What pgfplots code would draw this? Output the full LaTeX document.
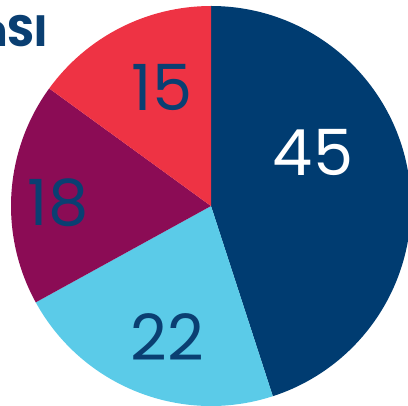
\documentclass[border=0pt]{standalone}
\usepackage{pgfplots}
\pgfplotsset{compat=1.18}
\usepackage{fontspec}
\setmainfont{Poppins}
\definecolor{cA}{HTML}{003C71}
\definecolor{cB}{HTML}{5BCBE8}
\definecolor{cC}{HTML}{8B0C55}
\definecolor{cD}{HTML}{EE3344}
\definecolor{cT}{HTML}{0A3F72}
\begin{document}
\begin{tikzpicture}
\useasboundingbox (0,0) rectangle (408bp,406bp);
\clip (0,0) rectangle (408bp,406bp);
\begin{axis}[
  at={(0,0)}, anchor=origin,
  scale only axis, width=408bp, height=406bp,
  xmin=0, xmax=408, ymin=0, ymax=406,
  hide axis, clip=false,
]
\fill[cA] (axis cs:211,200) -- (axis cs:211,400) arc[start angle=90, end angle={90-3.6*45}, radius=200bp] -- cycle;
\fill[cB] (axis cs:211,200) -- ++({90-3.6*45}:200bp) arc[start angle={90-3.6*45}, end angle={90-3.6*67}, radius=200bp] -- cycle;
\fill[cC] (axis cs:211,200) -- ++({90-3.6*67}:200bp) arc[start angle={90-3.6*67}, end angle={90-3.6*85}, radius=200bp] -- cycle;
\fill[cD] (axis cs:211,200) -- ++({90-3.6*85}:200bp) arc[start angle={90-3.6*85}, end angle={90-3.6*100}, radius=200bp] -- cycle;
\node[text=white, font=\fontsize{64}{64}\selectfont] at (axis cs:313,254) {45};
\node[text=cT, font=\fontsize{64}{64}\selectfont] at (axis cs:167,69) {22};
\node[text=cT, font=\fontsize{64}{64}\selectfont] at (axis cs:58,203) {18};
\node[text=cT, font=\fontsize{64}{64}\selectfont] at (axis cs:162,319) {15};
\node[text=cT, anchor=base east, inner sep=0pt, font=\bfseries\fontsize{44}{44}\selectfont] at (axis cs:48,359) {nSI};
\end{axis}
\end{tikzpicture}
\end{document}
